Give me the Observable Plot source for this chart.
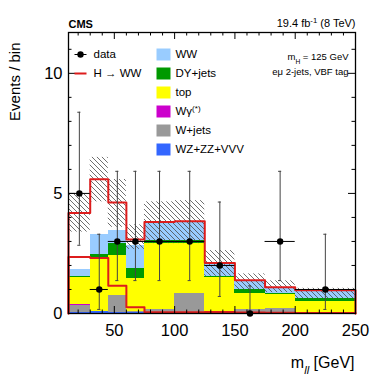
<!DOCTYPE html>
<html>
<head>
<meta charset="utf-8">
<script src="https://cdn.jsdelivr.net/npm/d3@7"></script>
<script src="https://cdn.jsdelivr.net/npm/@observablehq/plot@0.6"></script>
<style>
html,body{margin:0;padding:0;background:#fff;}
#chart{width:374px;height:392px;}
</style>
</head>
<body>
<div id="chart"></div>
<script>
// ---- data ----
const binEdges = [12, 30, 45, 60, 75, 100, 125, 150, 175, 200, 250];
const wzZzVvv  = [0.05, 0.10, 0.05, 0.03, 0.03, 0.03, 0.02, 0.02, 0.02, 0.02];
const wJets    = [0.29, 0.00, 0.70, 0.05, 0.15, 0.80, 0.05, 0.13, 0.19, 0.03];
const wGamma   = [0.04, 0.00, 0.00, 0.00, 0.00, 0.00, 0.00, 0.00, 0.00, 0.00];
const topQuark = [1.11, 2.21, 1.67, 1.37, 2.73, 2.08, 1.41, 0.68, 0.59, 0.47];
const dyJets   = [0.03, 0.16, 0.51, 0.42, 0.15, 0.12, 0.04, 0.16, 0.04, 0.10];
const ww       = [0.31, 0.81, 0.53, 0.95, 0.70, 0.76, 0.52, 0.35, 0.22, 0.33];
const higgs    = [2.35, 2.31, 1.16, 0.26, 0.05, 0.05, 0.06, 0.04, 0.03, 0.02];
const bandLo   = [3.39, 4.65, 3.59, 2.67, 2.91, 2.91, 1.55, 0.97, 0.87, 0.60];
const bandHi   = [4.99, 6.50, 5.58, 3.69, 4.65, 4.70, 2.62, 1.65, 1.36, 1.05];
const dataCounts = [5, 1, 3, 3, 3, 3, 2, 0, 3, 1];
const dataLo     = [2.84, 0.17, 1.37, 1.37, 1.37, 1.37, 0.71, 0.00, 1.37, 0.17];
const dataHi     = [8.38, 3.30, 5.92, 5.92, 5.92, 5.92, 4.64, 1.15, 5.92, 3.30];

const xMajor = [50, 100, 150, 200, 250];
const xMinor = [20, 30, 40, 60, 70, 80, 90, 110, 120, 130, 140, 160, 170, 180, 190, 210, 220, 230, 240];
const yMajor = [0, 5, 10];
const yMinor = [1, 2, 3, 4, 6, 7, 8, 9, 11];

const processNames  = ["WZ+ZZ+VVV", "W+jets", "Wγ^{(*)}", "top", "DY+jets", "WW"];
const processColors = ["#3366ff", "#999999", "#cc00cc", "#ffff00", "#009900", "#99ccff"];
const processValues = [wzZzVvv, wJets, wGamma, topQuark, dyJets, ww];
const legendOrder = [5, 4, 3, 2, 1, 0];

// ---- derived tables ----
const W = 374, H = 392;
const mL = 68, mR = 19, mT = 32, mB = 79;
const plotW = W - mL - mR, plotH = H - mT - mB;
const red = "#dd1c1c";
const nBins = binEdges.length - 1;

const stackRows = [];
const totals = [];
for (let i = 0; i < nBins; i++) {
  let c = 0;
  processValues.forEach((vals, k) => {
    stackRows.push({x1: binEdges[i], x2: binEdges[i + 1], y1: c, y2: c + vals[i], fill: processColors[k]});
    c += vals[i];
  });
  totals.push(c + higgs[i]);
}
function stepPoints(v) {
  const pts = [{x: binEdges[0], y: 0}];
  v.forEach((d, i) => pts.push({x: binEdges[i], y: d}));
  pts.push({x: binEdges[nBins], y: v[nBins - 1]});
  pts.push({x: binEdges[nBins], y: 0});
  return pts;
}
const bandRows = bandLo.map((lo, i) => ({x1: binEdges[i], x2: binEdges[i + 1], y1: lo, y2: bandHi[i]}));
const dataRows = dataCounts.map((n, i) => ({
  xc: (binEdges[i] + binEdges[i + 1]) / 2, x1: binEdges[i], x2: binEdges[i + 1], n, lo: dataLo[i], hi: dataHi[i]
}));
const capRows = dataRows.flatMap(d => [{xc: d.xc, y: d.lo}, {xc: d.xc, y: d.hi}]).filter(d => d.y > 0);

const lineSymbol = {draw(ctx) { ctx.moveTo(-6, 0); ctx.lineTo(6, 0); }};
const boxSymbol = {draw(ctx) { ctx.rect(-7, -6, 14, 12); }};

const font = "'Liberation Sans', Arial, Helvetica, sans-serif";
const legFont = 11.5;

const chart = Plot.plot({
  width: W, height: H,
  marginLeft: mL, marginRight: mR, marginTop: mT, marginBottom: mB,
  style: {fontFamily: font, background: "#fff", color: "#000"},
  x: {domain: [binEdges[0], binEdges[nBins]], axis: null},
  y: {domain: [0, 11.7], axis: null},
  color: {type: "identity"},
  marks: [
    // stacked backgrounds
    Plot.rect(stackRows, {x1: "x1", x2: "x2", y1: "y1", y2: "y2", fill: "fill", inset: 0, shapeRendering: "crispEdges"}),
    // uncertainty band
    Plot.rect(bandRows, {x1: "x1", x2: "x2", y1: "y1", y2: "y2", fill: "url(#hatch)", inset: 0}),
    // signal stacked on top and signal alone
    Plot.line(stepPoints(totals), {x: "x", y: "y", curve: "step-after", stroke: red, strokeWidth: 2}),
    Plot.line(stepPoints(higgs), {x: "x", y: "y", curve: "step-after", stroke: red, strokeWidth: 2}),
    // data
    Plot.ruleX(dataRows, {x: "xc", y1: "lo", y2: "hi", stroke: "#444", strokeWidth: 1}),
    Plot.ruleY(capRows, {y: "y", x1: d => d.xc - 1.3, x2: d => d.xc + 1.3, stroke: "#444", strokeWidth: 1}),
    Plot.ruleY(dataRows, {y: "n", x1: "x1", x2: "x2", stroke: "#000", strokeWidth: 1}),
    Plot.dot(dataRows, {x: "xc", y: "n", r: 3.2, fill: "#000"}),
    // frame and ROOT-style inward ticks
    Plot.frame({stroke: "#000", strokeWidth: 1.3}),
    Plot.tickX(xMajor, {x: d => d, insetTop: plotH - 7, stroke: "#000"}),
    Plot.tickX(xMajor, {x: d => d, insetBottom: plotH - 7, stroke: "#000"}),
    Plot.tickX(xMinor, {x: d => d, insetTop: plotH - 3.5, stroke: "#000"}),
    Plot.tickX(xMinor, {x: d => d, insetBottom: plotH - 3.5, stroke: "#000"}),
    Plot.tickY(yMajor, {y: d => d, insetRight: plotW - 7, stroke: "#000"}),
    Plot.tickY(yMajor, {y: d => d, insetLeft: plotW - 7, stroke: "#000"}),
    Plot.tickY(yMinor, {y: d => d, insetRight: plotW - 3.5, stroke: "#000"}),
    Plot.tickY(yMinor, {y: d => d, insetLeft: plotW - 3.5, stroke: "#000"}),
    // tick labels
    Plot.text(xMajor, {x: d => d, text: d => String(d), frameAnchor: "bottom", dy: 17, lineAnchor: "middle", fontSize: 16.5}),
    Plot.text(yMajor, {y: d => d, text: d => String(d), frameAnchor: "left", dx: -6, textAnchor: "end", lineAnchor: "middle", fontSize: 16.5}),
    // axis titles
    Plot.text(["Events / bin"], {text: d => d, frameAnchor: "top-left", dx: -53, dy: 10, rotate: -90, textAnchor: "end", lineAnchor: "middle", fontSize: 15}),
    Plot.text(["m_{ll} [GeV]"], {text: d => d, frameAnchor: "bottom-right", dx: -1, dy: 49, textAnchor: "end", lineAnchor: "middle", fontSize: 16}),
    // header
    Plot.text(["CMS"], {text: d => d, frameAnchor: "top-left", dy: -8.5, textAnchor: "start", lineAnchor: "middle", fontSize: 11, fontWeight: "bold"}),
    Plot.text(["19.4 fb^{-1} (8 TeV)"], {text: d => d, frameAnchor: "top-right", dy: -9, textAnchor: "end", lineAnchor: "middle", fontSize: 11}),
    // annotations
    Plot.text(["m_{H} = 125 GeV"], {text: d => d, frameAnchor: "top-right", dx: -7, dy: 24, textAnchor: "end", lineAnchor: "middle", fontSize: 9.5}),
    Plot.text(["eμ 2-jets, VBF tag"], {text: d => d, frameAnchor: "top-right", dx: -7, dy: 39, textAnchor: "end", lineAnchor: "middle", fontSize: 9.5}),
    // legend: left column
    Plot.dot([0], {frameAnchor: "top-left", dx: 12, dy: 22, symbol: lineSymbol, r: 5, stroke: "#000", strokeWidth: 1, fill: "none"}),
    Plot.dot([0], {frameAnchor: "top-left", dx: 12, dy: 22, r: 3.2, fill: "#000"}),
    Plot.text(["data"], {text: d => d, frameAnchor: "top-left", dx: 25, dy: 22, textAnchor: "start", lineAnchor: "middle", fontSize: legFont}),
    Plot.dot([0], {frameAnchor: "top-left", dx: 12, dy: 41, symbol: lineSymbol, r: 5, stroke: red, strokeWidth: 2, fill: "none"}),
    Plot.text(["H → WW"], {text: d => d, frameAnchor: "top-left", dx: 25, dy: 41, textAnchor: "start", lineAnchor: "middle", fontSize: legFont}),
    // legend: right column
    ...legendOrder.map((k, row) => Plot.dot([0], {frameAnchor: "top-left", dx: 95, dy: 22 + 19 * row, symbol: boxSymbol, r: 5, fill: processColors[k], stroke: "none"})),
    ...legendOrder.map((k, row) => Plot.text([processNames[k]], {text: d => d, frameAnchor: "top-left", dx: 107, dy: 22 + 19 * row, textAnchor: "start", lineAnchor: "middle", fontSize: legFont}))
  ]
});

// hatch pattern for the uncertainty band
const defs = d3.select(chart).insert("defs", ":first-child");
const pat = defs.append("pattern").attr("id", "hatch").attr("patternUnits", "userSpaceOnUse")
  .attr("width", 5).attr("height", 5);
pat.append("path").attr("d", "M-1,-1 L6,6 M-1,4 L1,6 M4,-1 L6,1")
  .attr("stroke", "#4a4a4a").attr("stroke-width", 0.8).attr("fill", "none");

// sub/superscripts as tspans
d3.select(chart).selectAll("text").each(function () {
  const el = this;
  if (el.querySelector("tspan")) return;
  const s = el.textContent;
  if (!/[_^]\{/.test(s)) return;
  el.textContent = "";
  const re = /([_^])\{([^}]*)\}/g;
  let last = 0, m;
  const plain = t => { const ts = document.createElementNS("http://www.w3.org/2000/svg", "tspan"); ts.textContent = t; el.appendChild(ts); };
  while ((m = re.exec(s))) {
    if (m.index > last) plain(s.slice(last, m.index));
    const ts = document.createElementNS("http://www.w3.org/2000/svg", "tspan");
    ts.textContent = m[2];
    ts.setAttribute("font-size", "70%");
    ts.setAttribute("baseline-shift", m[1] === "_" ? "sub" : "super");
    if (m[2] === "ll") ts.setAttribute("font-style", "italic");
    el.appendChild(ts);
    last = re.lastIndex;
  }
  if (last < s.length) plain(s.slice(last));
});

document.getElementById("chart").appendChild(chart);
</script>
</body>
</html>
